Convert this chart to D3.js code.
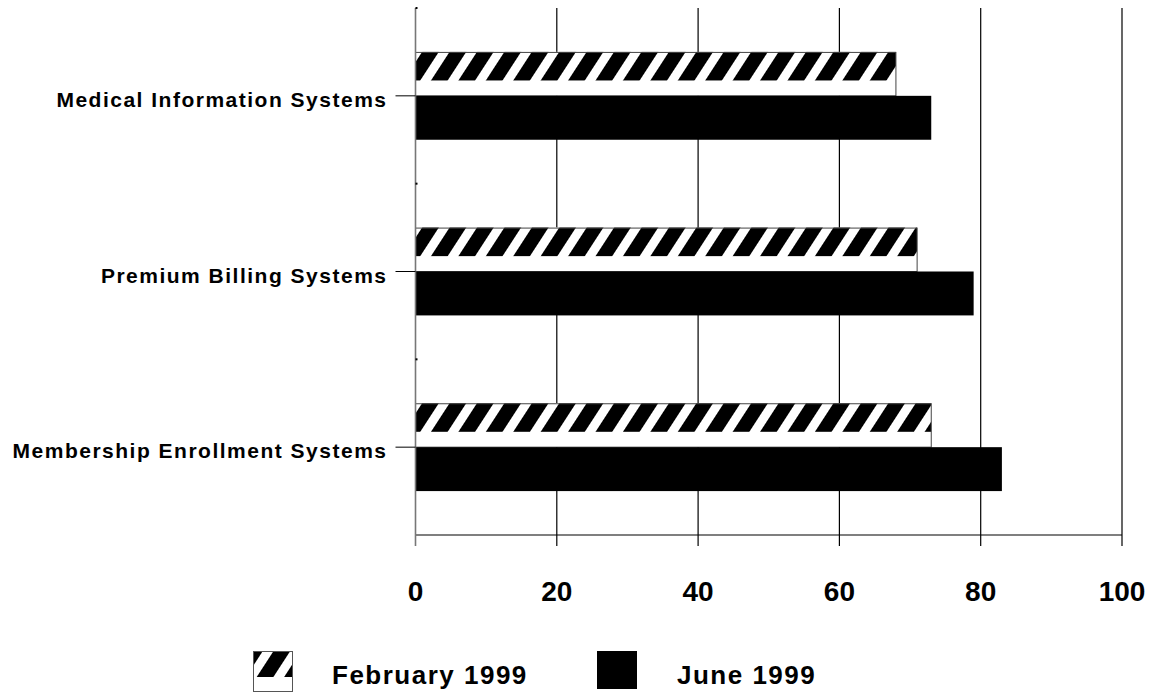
<!DOCTYPE html>
<html>
<head>
<meta charset="utf-8">
<script src="https://cdn.jsdelivr.net/npm/d3@7/dist/d3.min.js"></script>
<style>
  html, body { margin: 0; padding: 0; background: #fff; }
  svg { display: block; font-family: "Liberation Sans", Arial, sans-serif; }
</style>
</head>
<body>
<svg id="chart" width="1155" height="694"></svg>
<script>
// Systems surveyed, top to bottom
const categories = ["Medical Information Systems", "Premium Billing Systems", "Membership Enrollment Systems"];
// Survey waves
const seriesNames = ["February 1999", "June 1999"];
// Percent values per category, one array per wave
const feb1999 = [68, 71, 73];
const jun1999 = [73, 79, 83];
// Axis ticks
const xTicks = [0, 20, 40, 60, 80, 100];

const W = 1155, H = 694;
const margin = { top: 8, right: 33, bottom: 159, left: 415.5 };
const svg = d3.select("#chart");

const x = d3.scaleLinear().domain([0, 100]).range([margin.left, W - margin.right]);
const y = d3.scaleBand().domain(categories)
  .range([margin.top, H - margin.bottom])
  .paddingInner(0.5).paddingOuter(0.25);
const ySub = d3.scaleBand().domain(seriesNames).range([0, y.bandwidth()]);

const rows = categories.map((c, i) => ({ cat: c, values: [feb1999[i], jun1999[i]] }));

// Diagonal hatch used for the February wave
const defs = svg.append("defs");
const pat = defs.append("pattern")
  .attr("id", "hatch").attr("patternUnits", "userSpaceOnUse")
  .attr("width", 23).attr("height", 10)
  .attr("patternTransform", "rotate(33)");
pat.append("rect").attr("width", 23).attr("height", 10).attr("fill", "#000");
pat.append("rect").attr("x", 0).attr("width", 9).attr("height", 10).attr("fill", "#fff");

const plotTop = margin.top, plotBottom = H - margin.bottom;
const hatchShare = 0.65; // striped part of the hatched bar, rest stays white

// Vertical gridlines (they run a little below the baseline as tick marks)
svg.append("g").selectAll("line").data(xTicks.filter(d => d > 0)).join("line")
  .attr("x1", d => x(d)).attr("x2", d => x(d))
  .attr("y1", plotTop).attr("y2", plotBottom + 11)
  .attr("stroke", "#000").attr("stroke-width", 1.2);

// Bars
const groups = svg.append("g").selectAll("g").data(rows).join("g")
  .attr("transform", d => `translate(0,${y(d.cat)})`);

groups.each(function(d) {
  const g = d3.select(this);
  const v0 = d.values[0], v1 = d.values[1];
  const y0 = ySub(seriesNames[0]), h0 = ySub.bandwidth();
  g.append("rect")
    .attr("x", x(0)).attr("y", y0)
    .attr("width", x(v0) - x(0)).attr("height", h0)
    .attr("fill", "#fff");
  g.append("rect")
    .attr("x", x(0)).attr("y", y0)
    .attr("width", x(v0) - x(0)).attr("height", h0 * hatchShare)
    .attr("fill", "url(#hatch)");
  g.append("rect")
    .attr("x", x(0)).attr("y", y0 + 0.5)
    .attr("width", x(v0) - x(0)).attr("height", h0 - 0.5)
    .attr("fill", "none").attr("stroke", "#444").attr("stroke-width", 1);
  g.append("rect")
    .attr("x", x(0)).attr("y", ySub(seriesNames[1]))
    .attr("width", x(v1) - x(0)).attr("height", ySub.bandwidth())
    .attr("fill", "#000");
});

// Baseline (x axis line)
svg.append("line")
  .attr("x1", x(0)).attr("x2", x(100))
  .attr("y1", plotBottom).attr("y2", plotBottom)
  .attr("stroke", "#000").attr("stroke-width", 1.2);

// Zero line / category axis
svg.append("line")
  .attr("x1", x(0)).attr("x2", x(0))
  .attr("y1", plotTop).attr("y2", plotBottom + 11)
  .attr("stroke", "#777").attr("stroke-width", 1.6);

// Category tick marks and labels
svg.append("g").selectAll("line").data(categories).join("line")
  .attr("x1", x(0) - 20).attr("x2", x(0))
  .attr("y1", d => y(d) + y.bandwidth() / 2).attr("y2", d => y(d) + y.bandwidth() / 2)
  .attr("stroke", "#000").attr("stroke-width", 1);

svg.append("g").selectAll("rect").data(categories.slice(1)).join("rect")
  .attr("x", x(0)).attr("y", d => y(d) - y.step() * 0.25 - 1)
  .attr("width", 2).attr("height", 2).attr("fill", "#000");
svg.append("rect").attr("x", x(0)).attr("y", plotTop - 1)
  .attr("width", 2).attr("height", 2).attr("fill", "#000");

svg.append("g").selectAll("text").data(categories).join("text")
  .attr("x", x(0) - 28)
  .attr("y", d => y(d) + y.bandwidth() / 2 + 11)
  .attr("text-anchor", "end")
  .attr("font-size", 21).attr("font-weight", "bold")
  .attr("letter-spacing", 1.5)
  .text(d => d);

// Value axis labels
svg.append("g").selectAll("text").data(xTicks).join("text")
  .attr("x", d => x(d)).attr("y", 601)
  .attr("text-anchor", "middle")
  .attr("font-size", 28).attr("font-weight", "bold")
  .text(d => d);

// Legend
const legend = svg.append("g");
const legendX = [253, 597];
const textX = [332, 677];
seriesNames.forEach((name, i) => {
  const sw = legend.append("g");
  if (i === 0) {
    sw.append("rect").attr("x", legendX[i]).attr("y", 651).attr("width", 40).attr("height", 41).attr("fill", "#fff");
    sw.append("rect").attr("x", legendX[i]).attr("y", 651).attr("width", 40).attr("height", 26).attr("fill", "url(#hatch)");
    sw.append("rect").attr("x", legendX[i] + 0.5).attr("y", 651.5).attr("width", 39).attr("height", 40)
      .attr("fill", "none").attr("stroke", "#555").attr("stroke-width", 1);
  } else {
    sw.append("rect").attr("x", legendX[i]).attr("y", 651).attr("width", 40).attr("height", 38).attr("fill", "#000");
  }
  legend.append("text")
    .attr("x", textX[i]).attr("y", 684)
    .attr("font-size", 26).attr("font-weight", "bold")
    .attr("letter-spacing", 1.5)
    .text(name);
});
</script>
</body>
</html>
